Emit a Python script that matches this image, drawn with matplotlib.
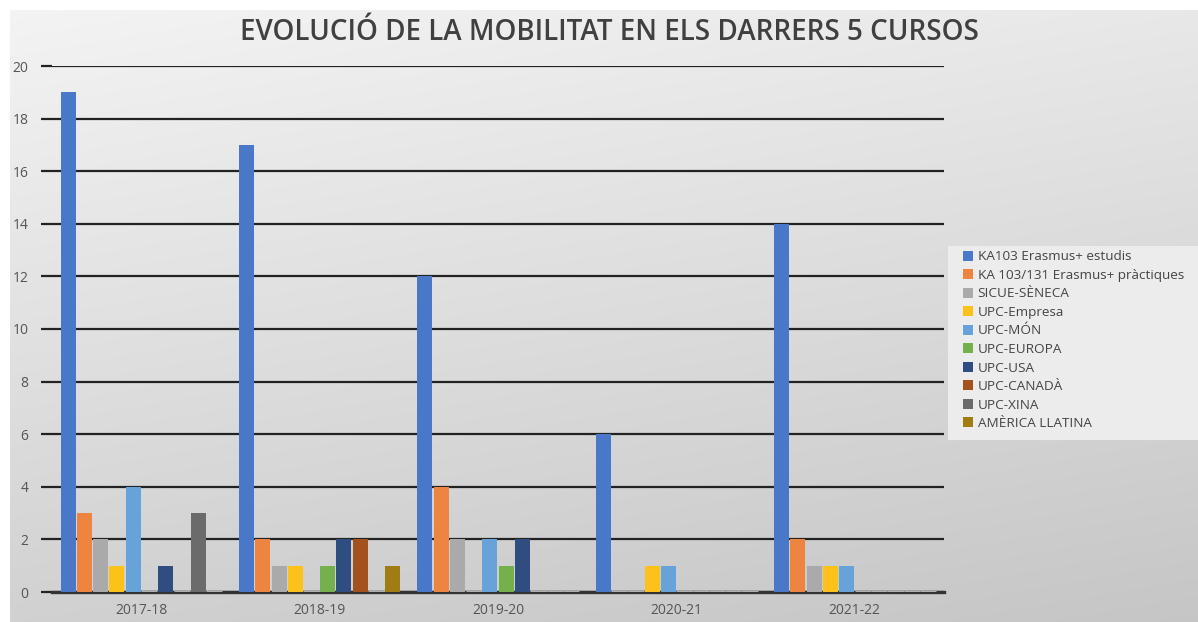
import numpy as np
import matplotlib
matplotlib.use("Agg")
import matplotlib.pyplot as plt
from matplotlib.patches import Rectangle, Patch

plt.rcParams['font.family'] = ['Open Sans', 'DejaVu Sans']

courses = ["2017-18", "2018-19", "2019-20", "2020-21", "2021-22"]
programs = ["KA103 Erasmus+ estudis", "KA 103/131 Erasmus+ pràctiques", "SICUE-SÈNECA",
            "UPC-Empresa", "UPC-MÓN", "UPC-EUROPA", "UPC-USA", "UPC-CANADÀ",
            "UPC-XINA", "AMÈRICA LLATINA"]
ka103 = [19, 17, 12, 6, 14]
ka131 = [3, 2, 4, 0, 2]
sicue = [2, 1, 2, 0, 1]
empresa = [1, 1, 0, 1, 1]
mon = [4, 0, 2, 1, 1]
europa = [0, 1, 1, 0, 0]
usa = [1, 2, 2, 0, 0]
canada = [0, 2, 0, 0, 0]
xina = [3, 0, 0, 0, 0]
america = [0, 1, 0, 0, 0]
series = [ka103, ka131, sicue, empresa, mon, europa, usa, canada, xina, america]
colors = ["#4a78c8", "#ed8440", "#aaaaaa", "#fcc21a", "#67a2d8", "#74b04c",
          "#2f4d80", "#a3521c", "#6b6b6b", "#a17c12"]

W, H = 1198, 622
fig = plt.figure(figsize=(W / 100, H / 100), dpi=100)
fig.patch.set_facecolor("white")

# gradient background
bg = fig.add_axes([10 / W, 0, 1 - 10 / W, 1 - 10 / H])
bg.set_axis_off()
yy, xx = np.mgrid[0:1:200j, 0:1:300j]
t = np.clip(0.75 * yy + 0.25 * xx, 0, 1)
top = np.array([0.955, 0.955, 0.955])
bot = np.array([0.775, 0.775, 0.775])
img = top[None, None, :] * (1 - t[..., None]) + bot[None, None, :] * t[..., None]
bg.imshow(img, aspect="auto", extent=[0, 1, 1, 0], interpolation="bilinear")
bg.set_xlim(0, 1); bg.set_ylim(1, 0)

# legend panel
fig.patches.append(Rectangle((948 / W, 1 - 440 / H), 250 / W, 194 / H,
                             transform=fig.transFigure, facecolor="#ececec",
                             edgecolor="none", zorder=1))

ax = fig.add_axes([52 / W, 1 - 592 / H, 892 / W, 526 / H])
ax.set_facecolor("none")
ax.set_zorder(2)

n = len(series)
slot = 0.091
bw = 0.084
x = np.arange(len(courses))
for i, (vals, c) in enumerate(zip(series, colors)):
    pos = x - slot * n / 2 + slot * (i + 0.5)
    vals = np.array(vals, dtype=float)
    ax.bar(pos, vals, width=bw, color=c, linewidth=0, zorder=3)
    zero = vals == 0
    if zero.any():
        ax.hlines(np.zeros(zero.sum()), pos[zero] - slot / 2, pos[zero] + slot / 2,
                  color="#b0b0b0", linewidth=2.2, zorder=3)

ax.set_xlim(-0.5, len(courses) - 0.5)
ax.set_ylim(0, 20)
ax.set_yticks(np.arange(0, 21, 2))
ax.set_xticks(x)
ax.set_xticklabels(courses)
ax.yaxis.grid(True, color="#222222", linewidth=1.6, zorder=1)
ax.set_axisbelow(True)
for s in ["top", "right", "left"]:
    ax.spines[s].set_visible(False)
ax.spines["bottom"].set_color("#333333")
ax.spines["bottom"].set_linewidth(2.4)
ax.tick_params(axis="y", length=8, width=1.6, color="#222222", labelsize=10,
               labelcolor="#555555", pad=9)
ax.tick_params(axis="x", length=0, labelsize=10, labelcolor="#555555", pad=8)

fig.text(609 / W, 1 - 32 / H, "EVOLUCIÓ DE LA MOBILITAT EN ELS DARRERS 5 CURSOS",
         ha="center", va="center", fontsize=20.0, fontweight="semibold", color="#404040")

handles = [Patch(facecolor=c, edgecolor="none") for c in colors]
leg = fig.legend(handles=handles, labels=programs, loc="upper left",
                 bbox_to_anchor=(958 / W, 1 - 245 / H), frameon=False,
                 fontsize=9.7, handlelength=0.75, handleheight=0.75,
                 handletextpad=0.3, labelspacing=0.41, borderaxespad=0)
for t_ in leg.get_texts():
    t_.set_color("#444444")

fig.savefig("out.png", dpi=100)
